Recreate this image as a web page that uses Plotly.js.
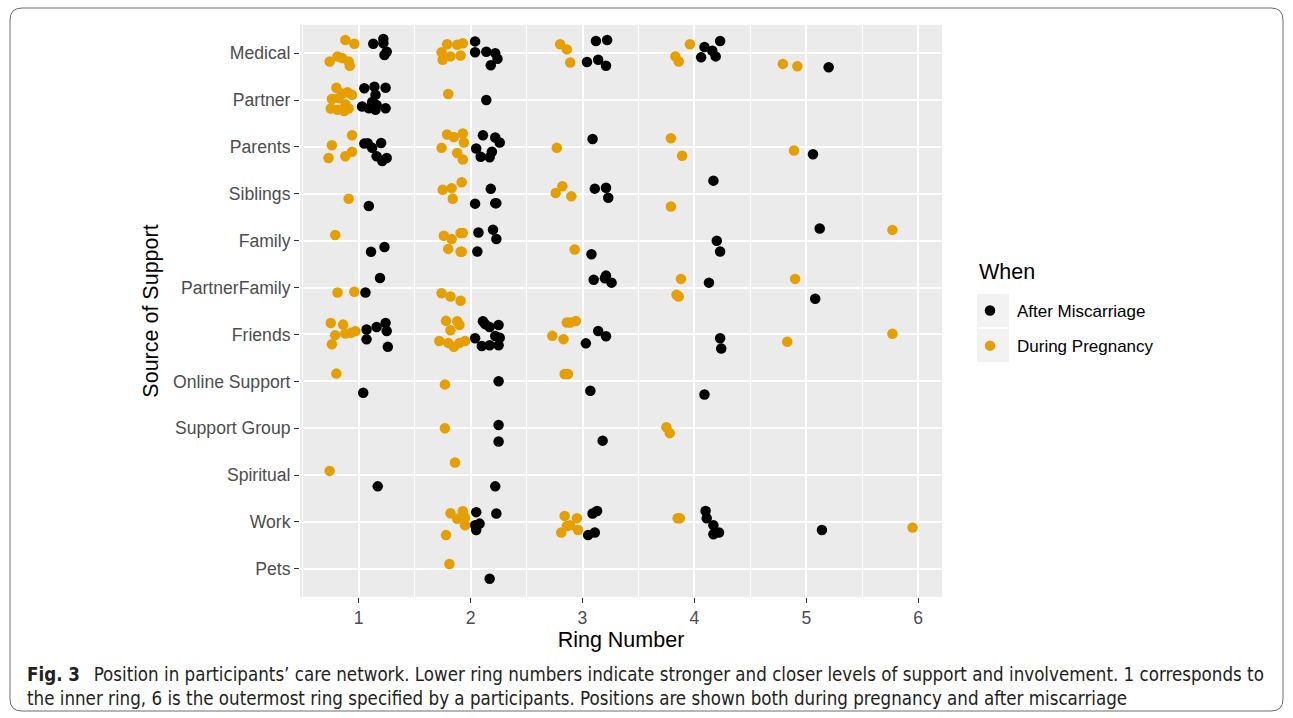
<!DOCTYPE html>
<html>
<head>
<meta charset="utf-8">
<script src="https://cdn.plot.ly/plotly-3.0.1.min.js"></script>
<style>
  html, body { margin: 0; padding: 0; background: #ffffff; }
  #chart { width: 1293px; height: 718px; }
</style>
</head>
<body>
<div id="chart"></div>
<script>
// Sources of support, listed top to bottom (row index 0 = Medical)
const categories = ["Medical", "Partner", "Parents", "Siblings", "Family", "PartnerFamily",
  "Friends", "Online Support", "Support Group", "Spiritual", "Work", "Pets"];

const ringTicks = [1, 2, 3, 4, 5, 6];

// After Miscarriage: jittered ring number and jittered row position
const afterRing = [
  1.13, 1.22, 1.22, 1.25, 1.23, 2.04, 2.04, 2.14, 2.22, 2.24, 2.18, 3.12, 3.22, 3.04, 3.14, 3.21, 4.23, 4.09, 4.16, 4.06, 4.19, 5.20,
  1.05, 1.14, 1.24, 1.15, 1.03, 1.09, 1.16, 1.15, 1.24, 1.12, 2.14,
  1.05, 1.08, 1.12, 1.20, 1.16, 1.21, 1.25, 2.11, 2.22, 2.26, 2.05, 2.19, 2.09, 2.17, 3.09, 5.06,
  1.09, 2.18, 2.04, 2.22, 2.23, 3.11, 3.21, 3.23, 4.17,
  1.11, 1.23, 2.07, 2.20, 2.23, 2.06, 3.08, 4.20, 4.23, 5.12,
  1.06, 1.19, 3.10, 3.21, 3.20, 3.26, 4.13, 5.08,
  1.07, 1.16, 1.24, 1.25, 1.07, 1.26, 2.11, 2.13, 2.17, 2.25, 2.04, 2.22, 2.26, 2.25, 2.17, 2.10, 3.14, 3.21, 3.03, 4.23, 4.24,
  1.04, 2.25, 3.07, 4.09,
  2.25, 2.25, 3.18,
  1.17, 2.22,
  2.05, 2.08, 2.04, 2.05, 2.23, 3.09, 3.13, 3.05, 3.11, 4.10, 4.11, 4.17, 4.17, 4.22, 5.14,
  2.17
];
const afterRow = [
  -0.20, -0.30, -0.21, -0.03, 0.04, -0.25, -0.02, -0.03, 0.00, 0.12, 0.26, -0.26, -0.28, 0.19, 0.14, 0.27, -0.26, -0.13, -0.05, 0.09, 0.07, 0.30,
  0.75, 0.715, 0.74, 0.89, 1.14, 1.175, 1.105, 1.21, 1.175, 1.04, 1.00,
  1.93, 1.92, 2.02, 1.915, 2.20, 2.30, 2.235, 1.75, 1.80, 1.905, 2.035, 2.105, 2.21, 2.22, 1.83, 2.155,
  3.26, 2.895, 3.21, 3.20, 3.20, 2.89, 2.87, 3.085, 2.72,
  4.235, 4.135, 3.825, 3.765, 3.965, 4.23, 4.29, 4.00, 4.23, 3.74,
  5.105, 4.795, 4.835, 4.745, 4.80, 4.895, 4.895, 5.24,
  5.895, 5.84, 5.755, 5.925, 6.105, 6.265, 5.72, 5.78, 5.84, 5.80, 6.08, 6.035, 6.07, 6.23, 6.23, 6.245, 5.925, 6.04, 6.19, 6.08, 6.30,
  7.245, 7.00, 7.20, 7.28,
  7.93, 8.285, 8.265,
  9.24, 9.24,
  9.79, 10.035, 10.07, 10.17, 9.82, 9.82, 9.765, 10.28, 10.225, 9.765, 9.92, 10.07, 10.26, 10.225, 10.17,
  11.21
];

// During Pregnancy: jittered ring number and jittered row position
const duringRing = [
  0.88, 0.96, 0.74, 0.81, 0.85, 0.91, 0.92, 1.79, 1.74, 1.75, 1.82, 1.88, 1.93, 1.91, 2.80, 2.86, 2.89, 3.96, 3.83, 3.86, 4.79, 4.92,
  0.80, 0.85, 0.90, 0.82, 0.76, 0.88, 0.81, 0.87, 0.91, 0.75, 0.94, 1.80,
  0.94, 0.76, 0.94, 0.88, 0.73, 1.79, 1.85, 1.93, 1.94, 1.74, 1.88, 1.93, 2.77, 3.79, 3.89, 4.89,
  0.91, 1.75, 1.83, 1.92, 1.84, 2.76, 2.82, 2.90, 3.79,
  0.79, 1.76, 1.83, 1.91, 1.93, 1.80, 1.91, 1.92, 2.93, 5.77,
  0.81, 0.96, 1.74, 1.82, 1.91, 3.88, 3.84, 3.86, 4.90,
  0.75, 0.86, 0.79, 0.88, 0.93, 0.97, 0.76, 1.78, 1.88, 1.90, 1.82, 1.72, 1.80, 1.85, 1.90, 1.95, 2.86, 2.89, 2.94, 2.73, 2.83, 4.83, 5.77,
  0.80, 1.77, 2.84, 2.87,
  1.77, 3.75, 3.78,
  0.74, 1.86,
  1.82, 1.88, 1.93, 1.95, 1.95, 1.78, 2.84, 2.95, 2.86, 2.89, 2.96, 2.81, 3.85, 3.87, 5.95,
  1.81
];
const duringRow = [
  -0.28, -0.20, 0.18, 0.07, 0.105, 0.18, 0.27, -0.19, -0.02, 0.14, 0.07, -0.18, -0.21, 0.05, -0.19, -0.08, 0.20, -0.19, 0.07, 0.18, 0.23, 0.28,
  0.74, 0.86, 0.835, 0.96, 0.98, 1.09, 1.21, 1.235, 1.18, 1.18, 0.89, 0.87,
  1.75, 1.965, 2.105, 2.20, 2.235, 1.735, 1.79, 1.715, 1.905, 2.02, 2.13, 2.27, 2.02, 1.815, 2.19, 2.075,
  3.105, 2.915, 2.88, 2.755, 3.105, 2.985, 2.84, 3.055, 3.27,
  3.88, 3.895, 3.965, 3.835, 3.835, 4.175, 4.235, 4.235, 4.19, 3.77,
  5.105, 5.09, 5.12, 5.19, 5.28, 4.815, 5.155, 5.19, 4.815,
  5.755, 5.79, 6.015, 5.98, 5.965, 5.93, 6.21, 5.71, 5.72, 5.80, 5.91, 6.14, 6.18, 6.265, 6.18, 6.14, 5.745, 5.745, 5.715, 6.03, 6.10, 6.155, 5.985,
  6.835, 7.065, 6.845, 6.845,
  8.00, 7.98, 8.105,
  8.91, 8.73,
  9.815, 9.93, 9.77, 9.905, 10.07, 10.28, 9.87, 9.92, 10.085, 10.07, 10.17, 10.225, 9.92, 9.92, 10.12,
  10.895
];

const seriesNames = ["After Miscarriage", "During Pregnancy"];
const seriesColors = ["#000000", "#E69F00"];

// Plot area in page pixels, used to place the frame, caption and legend keys
const PLOT = { left: 300, right: 942, top: 25, bottom: 597 };
const px = X => (X - PLOT.left) / (PLOT.right - PLOT.left);
const py = Y => (PLOT.bottom - Y) / (PLOT.bottom - PLOT.top);

function roundedRectPath(X0, Y0, X1, Y1, r) {
  const L = px(X0), R = px(X1), T = py(Y0), B = py(Y1);
  const rx = r / (PLOT.right - PLOT.left), ry = r / (PLOT.bottom - PLOT.top);
  return `M ${L + rx},${T} L ${R - rx},${T} Q ${R},${T} ${R},${T - ry} ` +
         `L ${R},${B + ry} Q ${R},${B} ${R - rx},${B} L ${L + rx},${B} ` +
         `Q ${L},${B} ${L},${B + ry} L ${L},${T - ry} Q ${L},${T} ${L + rx},${T} Z`;
}

const traces = [
  { x: afterRing, y: afterRow, name: seriesNames[0], legendgroup: "a", color: seriesColors[0] },
  { x: duringRing, y: duringRow, name: seriesNames[1], legendgroup: "b", color: seriesColors[1] }
].map(s => ({
  type: "scatter",
  mode: "markers",
  x: s.x,
  y: s.y,
  name: s.name,
  legendgroup: s.legendgroup,
  marker: { color: s.color, size: 10.5, line: { width: 0 } },
  hoverinfo: "x+name"
}));

const SANS = "Liberation Sans, Arial, sans-serif";
const tickFont = { family: SANS, size: 17.6, color: "#4D4D4D" };
const titleFont = { family: SANS, size: 21.5, color: "#000000" };
const captionFont = { family: "Liberation Sans Narrow, DejaVu Sans Condensed, Liberation Sans, sans-serif", size: 18.6, color: "#231F20" };

const layout = {
  width: 1293,
  height: 718,
  margin: { l: PLOT.left, r: 1293 - PLOT.right, t: PLOT.top, b: 718 - PLOT.bottom, pad: 0 },
  paper_bgcolor: "#FFFFFF",
  plot_bgcolor: "#EBEBEB",
  showlegend: true,
  xaxis: {
    range: [0.475, 6.213],
    tickmode: "array",
    tickvals: ringTicks,
    ticktext: ringTicks.map(String),
    ticks: "outside",
    ticklen: 5,
    tickwidth: 1.1,
    tickcolor: "#333333",
    tickfont: tickFont,
    showgrid: true,
    gridcolor: "#FFFFFF",
    gridwidth: 1.8,
    minor: { tickmode: "array", tickvals: [0.5, 1.5, 2.5, 3.5, 4.5, 5.5], showgrid: true, gridcolor: "#FFFFFF", gridwidth: 0.9, ticks: "" },
    zeroline: false,
    showline: false,
    title: { text: "Ring Number", font: titleFont, standoff: 3 }
  },
  yaxis: {
    range: [11.6, -0.6],
    tickmode: "array",
    tickvals: categories.map((c, i) => i),
    ticktext: categories,
    ticks: "outside",
    ticklen: 5,
    tickwidth: 1.1,
    tickcolor: "#333333",
    tickfont: tickFont,
    showgrid: true,
    gridcolor: "#FFFFFF",
    gridwidth: 1.8,
    zeroline: false,
    showline: false,
    title: { text: "Source of Support", font: titleFont, standoff: 8 }
  },
  legend: {
    x: px(963),
    y: py(293),
    xanchor: "left",
    yanchor: "top",
    bgcolor: "rgba(0,0,0,0)",
    borderwidth: 0,
    tracegroupgap: 10,
    itemwidth: 44,
    font: { family: SANS, size: 17, color: "#000000" },
    itemsizing: "trace"
  },
  shapes: [
    { type: "path", xref: "paper", yref: "paper", path: roundedRectPath(10, 8, 1283, 711, 12),
      line: { color: "#6E6E6E", width: 1 }, fillcolor: "rgba(0,0,0,0)", layer: "below" },
    { type: "rect", xref: "paper", yref: "paper", x0: px(977), x1: px(1009), y0: py(294), y1: py(327),
      fillcolor: "#F2F2F2", line: { width: 0 }, layer: "below" },
    { type: "rect", xref: "paper", yref: "paper", x0: px(977), x1: px(1009), y0: py(329), y1: py(362),
      fillcolor: "#F2F2F2", line: { width: 0 }, layer: "below" }
  ],
  annotations: [
    // legend heading
    { xref: "paper", yref: "paper", x: px(977), y: py(272), xanchor: "left", yanchor: "middle", showarrow: false,
      font: { family: SANS, size: 21.5, color: "#000000" }, text: "When" },
    // figure caption
    { xref: "paper", yref: "paper", x: px(25), y: py(675), xanchor: "left", yanchor: "middle", showarrow: false,
      align: "left", font: captionFont,
      text: "<b>Fig. 3</b>\u2002 Position in participants\u2019 care network. Lower ring numbers indicate stronger and closer levels of support and involvement. 1 corresponds to" },
    { xref: "paper", yref: "paper", x: px(25), y: py(698), xanchor: "left", yanchor: "middle", showarrow: false,
      align: "left", font: captionFont,
      text: "the inner ring, 6 is the outermost ring specified by a participants. Positions are shown both during pregnancy and after miscarriage" }
  ]
};

Plotly.newPlot("chart", traces, layout, { displayModeBar: false, responsive: false });
</script>
</body>
</html>
